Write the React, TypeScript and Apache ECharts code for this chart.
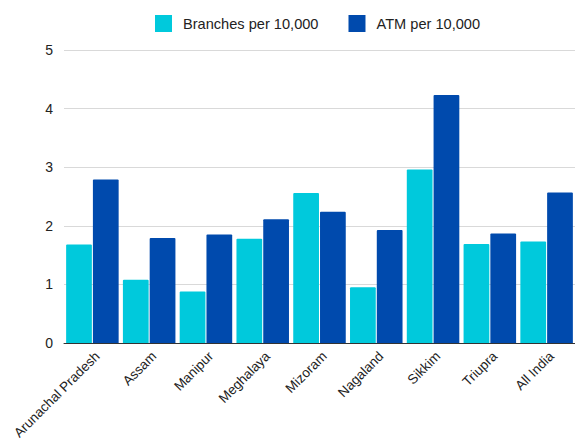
import React, { useEffect, useRef } from "react";
import * as echarts from "echarts";

const categories = [
  "Arunachal Pradesh",
  "Assam",
  "Manipur",
  "Meghalaya",
  "Mizoram",
  "Nagaland",
  "Sikkim",
  "Triupra",
  "All India",
];
const branches = [1.68, 1.08, 0.88, 1.78, 2.56, 0.95, 2.96, 1.69, 1.73];
const atm = [2.79, 1.79, 1.85, 2.11, 2.24, 1.93, 4.23, 1.87, 2.57];
const seriesNames = ["Branches per 10,000", "ATM per 10,000"];

export default function App() {
  const ref = useRef<HTMLDivElement>(null);
  useEffect(() => {
    document.body.style.margin = "0";
    if (!ref.current) return;
    const chart = echarts.init(ref.current, undefined, { renderer: "svg" });
    chart.setOption({
      animation: false,
      textStyle: { fontFamily: "Liberation Sans, Arial, sans-serif" },
      legend: {
        top: 15,
        left: 155,
        padding: 0,
        itemWidth: 17,
        itemHeight: 17,
        itemGap: 30,
        icon: "rect",
        textStyle: { fontSize: 14.6, color: "#222", padding: [0, 0, 0, 6] },
        data: seriesNames,
      },
      grid: { left: 64, top: 50, width: 516, height: 293, containLabel: false },
      xAxis: {
        type: "category",
        data: categories,
        axisLine: { lineStyle: { color: "#333", width: 1 } },
        axisTick: { show: false },
        axisLabel: {
          rotate: 45,
          interval: 0,
          fontSize: 13.5,
          color: "#222",
          margin: 6,
          verticalAlign: "top",
        },
      },
      yAxis: {
        type: "value",
        min: 0,
        max: 5,
        interval: 1,
        axisLine: { show: false },
        axisTick: { show: false },
        splitLine: { lineStyle: { color: "#d9d9d9", width: 1 } },
        axisLabel: { fontSize: 14, color: "#222", margin: 11 },
      },
      series: [
        {
          name: seriesNames[0],
          type: "bar",
          data: branches,
          barGap: "4%",
          barCategoryGap: "7.5%",
          itemStyle: { color: "#00c9dc", borderRadius: [1, 1, 0, 0] },
        },
        {
          name: seriesNames[1],
          type: "bar",
          data: atm,
          itemStyle: { color: "#004aad", borderRadius: [1, 1, 0, 0] },
        },
      ],
    });
    return () => chart.dispose();
  }, []);
  return <div ref={ref} style={{ width: 575, height: 443 }} />;
}
